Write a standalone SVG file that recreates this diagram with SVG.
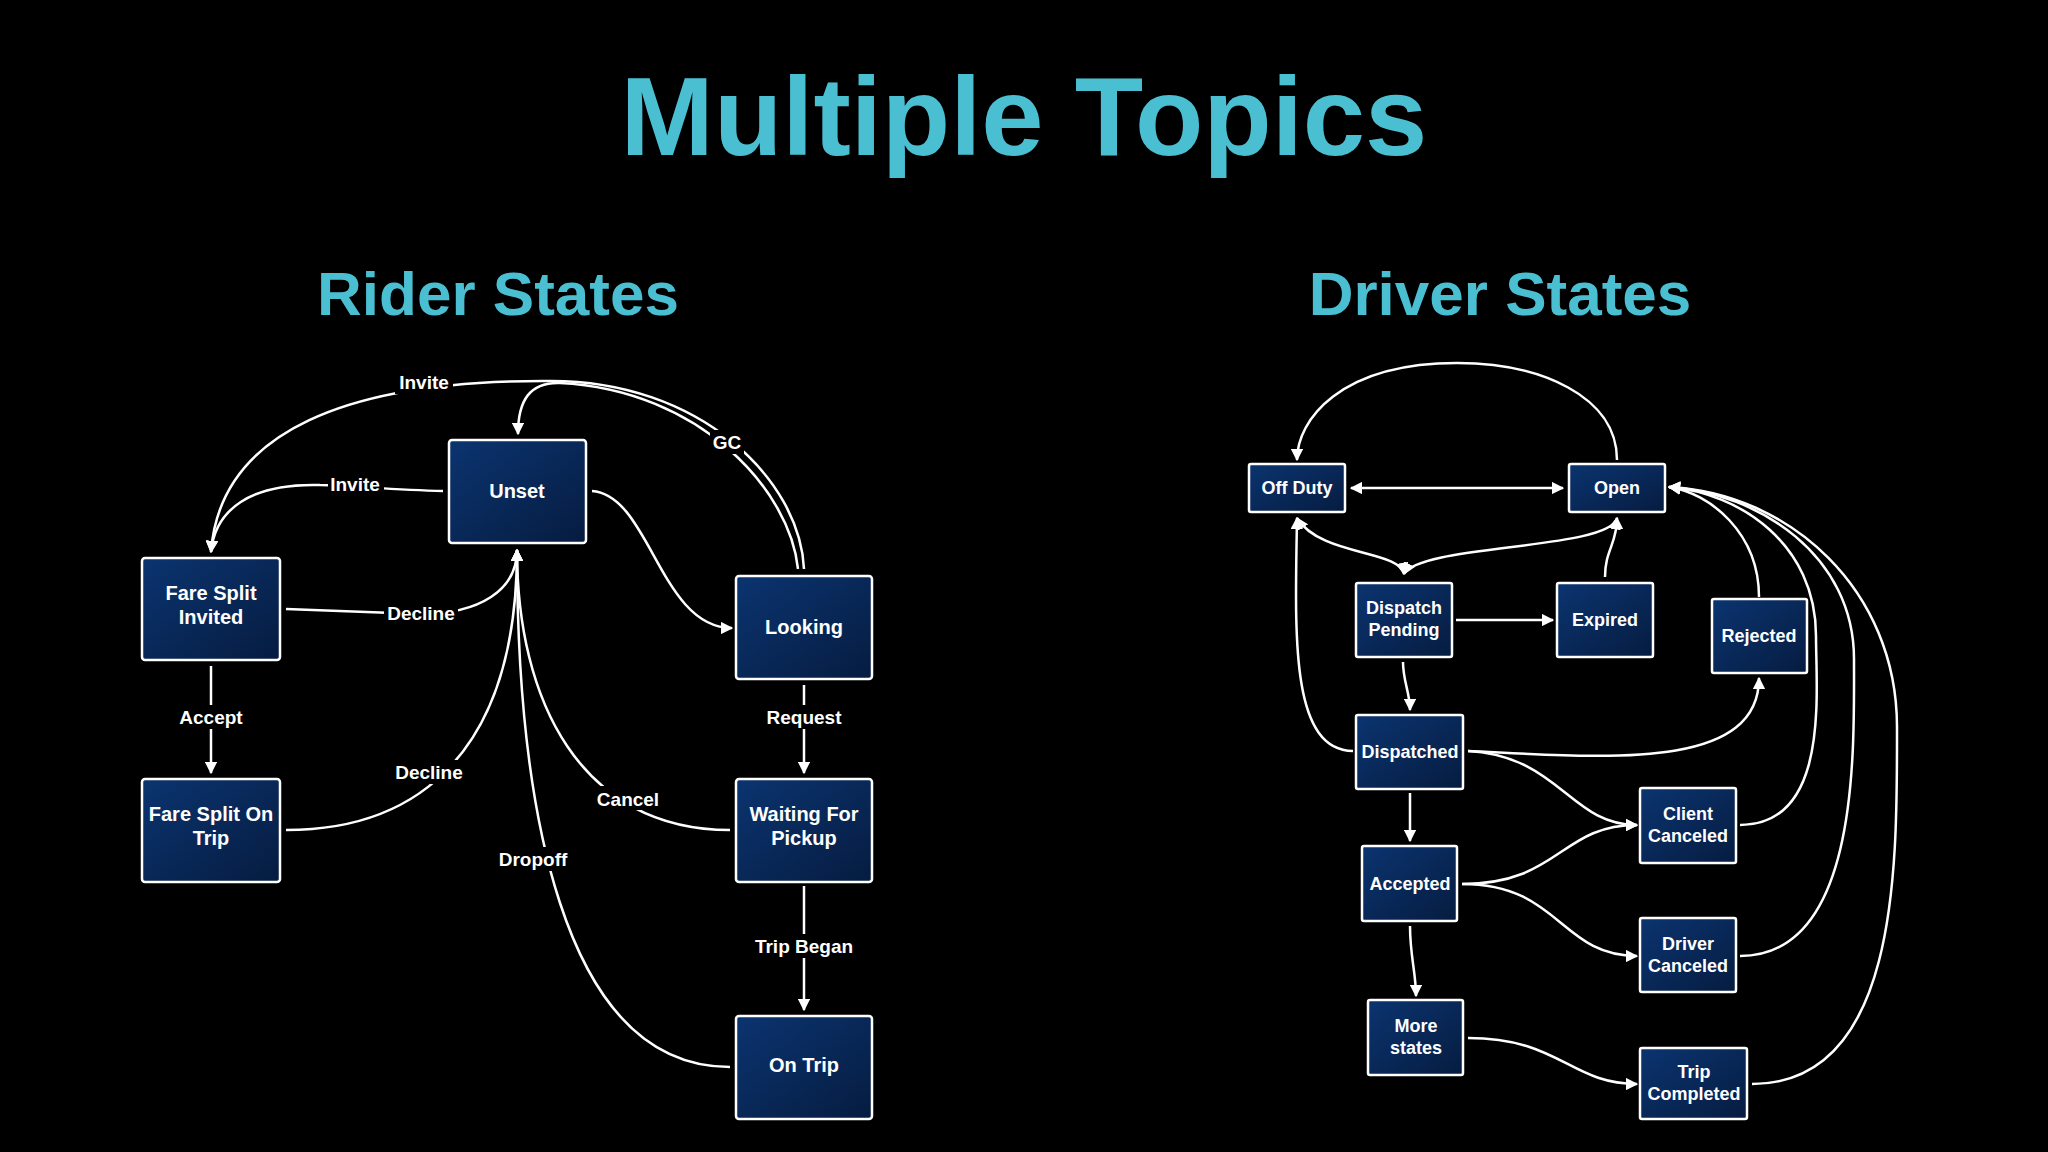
<svg xmlns="http://www.w3.org/2000/svg" width="2048" height="1152" viewBox="0 0 2048 1152">
<defs>
<linearGradient id="g" x1="0" y1="0" x2="1" y2="1"><stop offset="0" stop-color="#0b3470"/><stop offset="1" stop-color="#061c40"/></linearGradient>
<marker id="a" viewBox="0 0 10 10" refX="9" refY="5" markerWidth="5" markerHeight="5" orient="auto-start-reverse"><path d="M0,0 L10,5 L0,10 z" fill="#fff"/></marker>
<style>
.n rect{fill:url(#g);stroke:#fff;stroke-width:2.5}
.n text,.l{fill:#fff;font-family:"Liberation Sans",Arial,sans-serif;font-weight:bold;text-anchor:middle}
.L text{font-size:20px}
.R text{font-size:18px}
.l{font-size:19px}
.e path{fill:none;stroke:#fff;stroke-width:2.5}
.t{fill:#4bbfd2;font-family:"Liberation Sans",Arial,sans-serif;font-weight:bold;text-anchor:middle}
</style>
</defs>
<rect width="2048" height="1152" fill="#000"/>
<text class="t" x="1024" y="155" font-size="112">Multiple Topics</text>
<text class="t" x="498" y="315" font-size="62">Rider States</text>
<text class="t" x="1500" y="315" font-size="62">Driver States</text>

<g class="e" id="edges">
<path d="M804,569 C800,480 700,380 549,381 C350,380 220,430 211,552" marker-end="url(#a)"/>
<path d="M798,569 C790,490 700,390 560,383 C530,382 518,400 518,434" marker-end="url(#a)"/>
<path d="M443,491 C390,490 350,485 320,485 C250,483 215,510 211,552" marker-end="url(#a)"/>
<path d="M592,491 C650,495 660,628 732,628" marker-end="url(#a)"/>
<path d="M286,609 L420,614 C480,614 517,590 517,550" marker-end="url(#a)"/>
<path d="M211,666 L211,773" marker-end="url(#a)"/>
<path d="M286,830 C420,830 517,750 517,550" marker-end="url(#a)"/>
<path d="M730,830 C580,830 517,700 517,550" marker-end="url(#a)"/>
<path d="M730,1067 C560,1067 517,800 517,550" marker-end="url(#a)"/>
<path d="M804,685 L804,773" marker-end="url(#a)"/>
<path d="M804,886 L804,1010" marker-end="url(#a)"/>

<path d="M1617,460 C1617,396 1540,363 1457,363 C1340,363 1297,420 1297,460" marker-end="url(#a)"/>
<path d="M1351,488 L1563,488" marker-start="url(#a)" marker-end="url(#a)"/>
<path d="M1297,518 C1320,556 1400,550 1404,574" marker-start="url(#a)" marker-end="url(#a)"/>
<path d="M1617,518 C1610,550 1420,544 1404,574" marker-start="url(#a)" marker-end="url(#a)"/>
<path d="M1605,577 C1605,550 1617,544 1617,518" marker-end="url(#a)"/>
<path d="M1456,620 L1553,620" marker-end="url(#a)"/>
<path d="M1403,662 C1403,681 1410,693 1410,710" marker-end="url(#a)"/>
<path d="M1353,751 C1290,750 1295,636 1297,518" marker-end="url(#a)"/>
<path d="M1468,751 C1600,757 1759,773 1759,678" marker-end="url(#a)"/>
<path d="M1468,751 C1560,756 1570,825 1637,825" marker-end="url(#a)"/>
<path d="M1410,793 L1410,841" marker-end="url(#a)"/>
<path d="M1462,884 C1560,884 1560,825 1637,825" marker-end="url(#a)"/>
<path d="M1462,884 C1560,884 1560,956 1637,956" marker-end="url(#a)"/>
<path d="M1410,926 C1410,956 1416,973 1416,996" marker-end="url(#a)"/>
<path d="M1468,1038 C1560,1038 1570,1084 1637,1084" marker-end="url(#a)"/>
<path d="M1759,597 C1759,533 1710,493 1669,487" marker-end="url(#a)"/>
<path d="M1740,825 C1830,825 1816,693 1816,636 C1816,544 1740,493 1669,487" marker-end="url(#a)"/>
<path d="M1740,956 C1860,956 1854,750 1854,659 C1854,556 1760,493 1669,487" marker-end="url(#a)"/>
<path d="M1752,1084 C1900,1084 1897,864 1897,727 C1897,590 1790,493 1669,487" marker-end="url(#a)"/>
</g>
<g id="labels">
<rect x="395" y="370" width="58" height="24" fill="#000"/><text class="l" x="424" y="389">Invite</text>
<rect x="328" y="472" width="56" height="24" fill="#000"/><text class="l" x="355" y="491">Invite</text>
<rect x="710" y="430" width="34" height="24" fill="#000"/><text class="l" x="727" y="449">GC</text>
<rect x="384" y="600" width="74" height="24" fill="#000"/><text class="l" x="421" y="620">Decline</text>
<rect x="172" y="705" width="78" height="24" fill="#000"/><text class="l" x="211" y="724">Accept</text>
<rect x="390" y="760" width="78" height="24" fill="#000"/><text class="l" x="429" y="779">Decline</text>
<rect x="592" y="786" width="72" height="24" fill="#000"/><text class="l" x="628" y="806">Cancel</text>
<rect x="492" y="847" width="82" height="24" fill="#000"/><text class="l" x="533" y="866">Dropoff</text>
<rect x="758" y="705" width="92" height="24" fill="#000"/><text class="l" x="804" y="724">Request</text>
<rect x="748" y="934" width="112" height="24" fill="#000"/><text class="l" x="804" y="953">Trip Began</text>
</g>

<g class="n L" id="unset"><rect x="449" y="440" width="137" height="103" rx="3"/><text x="517" y="498">Unset</text></g>
<g class="n L" id="fsi"><rect x="142" y="558" width="138" height="102" rx="3"/><text x="211" y="600">Fare Split</text><text x="211" y="624">Invited</text></g>
<g class="n L" id="fsot"><rect x="142" y="779" width="138" height="103" rx="3"/><text x="211" y="821">Fare Split On</text><text x="211" y="845">Trip</text></g>
<g class="n L" id="looking"><rect x="736" y="576" width="136" height="103" rx="3"/><text x="804" y="634">Looking</text></g>
<g class="n L" id="waiting"><rect x="736" y="779" width="136" height="103" rx="3"/><text x="804" y="821">Waiting For</text><text x="804" y="845">Pickup</text></g>
<g class="n L" id="ontrip"><rect x="736" y="1016" width="136" height="103" rx="3"/><text x="804" y="1072">On Trip</text></g>

<g class="n R" id="offduty"><rect x="1249" y="464" width="96" height="48" rx="2"/><text x="1297" y="494">Off Duty</text></g>
<g class="n R" id="open"><rect x="1569" y="464" width="96" height="48" rx="2"/><text x="1617" y="494">Open</text></g>
<g class="n R" id="dp"><rect x="1356" y="583" width="96" height="74" rx="2"/><text x="1404" y="614">Dispatch</text><text x="1404" y="636">Pending</text></g>
<g class="n R" id="expired"><rect x="1557" y="583" width="96" height="74" rx="2"/><text x="1605" y="626">Expired</text></g>
<g class="n R" id="rejected"><rect x="1712" y="599" width="95" height="74" rx="2"/><text x="1759" y="642">Rejected</text></g>
<g class="n R" id="dispatched"><rect x="1356" y="715" width="107" height="74" rx="2"/><text x="1410" y="758">Dispatched</text></g>
<g class="n R" id="cc"><rect x="1640" y="788" width="96" height="75" rx="2"/><text x="1688" y="820">Client</text><text x="1688" y="842">Canceled</text></g>
<g class="n R" id="accepted"><rect x="1362" y="846" width="95" height="75" rx="2"/><text x="1410" y="890">Accepted</text></g>
<g class="n R" id="dc"><rect x="1640" y="918" width="96" height="74" rx="2"/><text x="1688" y="950">Driver</text><text x="1688" y="972">Canceled</text></g>
<g class="n R" id="more"><rect x="1368" y="1000" width="95" height="75" rx="2"/><text x="1416" y="1032">More</text><text x="1416" y="1054">states</text></g>
<g class="n R" id="tc"><rect x="1640" y="1048" width="107" height="71" rx="2"/><text x="1694" y="1078">Trip</text><text x="1694" y="1100">Completed</text></g>
</svg>
